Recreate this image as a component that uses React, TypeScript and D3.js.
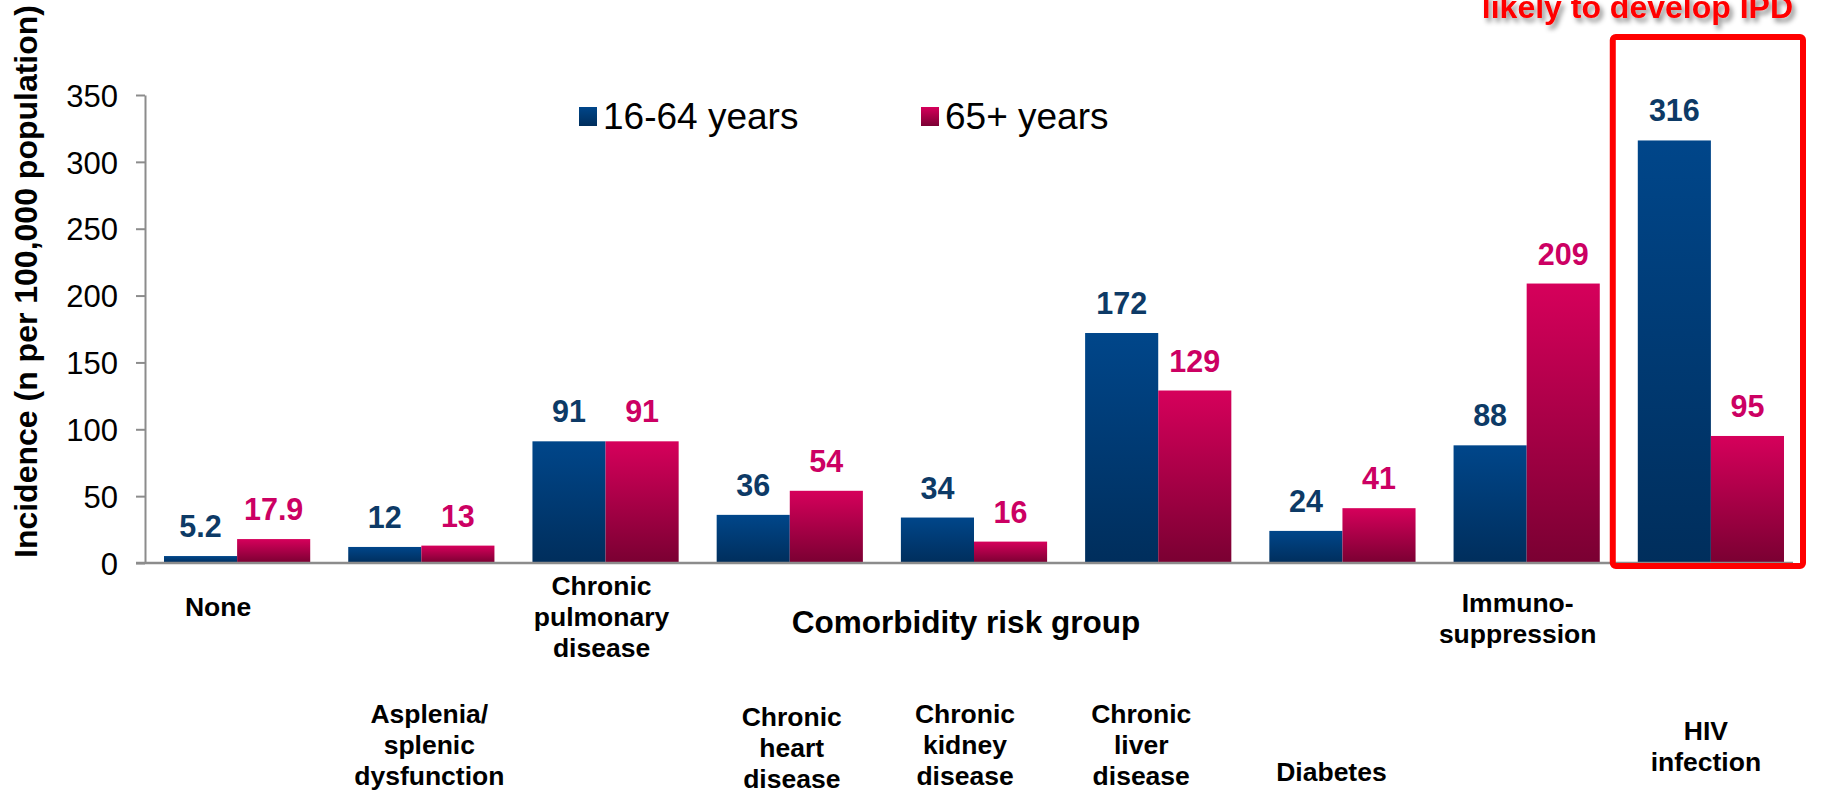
/**
 * IPD incidence by comorbidity risk group, grouped bar chart
 * - D3 scales/axes drawn into an SVG through a ref
 * - HIV group highlighted with a red frame
 */
import { useEffect, useRef } from 'react'
import * as d3 from 'd3'

// ── data ──
const categories = [
  'None', 'Asplenia', 'Pulmonary', 'Heart', 'Kidney', 'Liver', 'Diabetes', 'Immuno', 'HIV',
]
const categoryLines = [
  ['None'],
  ['Asplenia/', 'splenic', 'dysfunction'],
  ['Chronic', 'pulmonary', 'disease'],
  ['Chronic', 'heart', 'disease'],
  ['Chronic', 'kidney', 'disease'],
  ['Chronic', 'liver', 'disease'],
  ['Diabetes'],
  ['Immuno-', 'suppression'],
  ['HIV', 'infection'],
]
const seriesNames = ['16-64 years', '65+ years']
const young = [5.2, 12, 91, 36, 34, 172, 24, 88, 316]
const old   = [17.9, 13, 91, 54, 16, 129, 41, 209, 95]
const youngLabels = ['5.2', '12', '91', '36', '34', '172', '24', '88', '316']
const oldLabels   = ['17.9', '13', '91', '54', '16', '129', '41', '209', '95']
const yTicks = [0, 50, 100, 150, 200, 250, 300, 350]

// label placement under the axis (first baseline, horizontal nudge)
const labelLayout = [
  { y: 616, dx: -19 }, { y: 723, dx: 8 }, { y: 595, dx: -4 },
  { y: 726, dx: 2 },   { y: 723, dx: -9 }, { y: 723, dx: -17 },
  { y: 781, dx: -11 }, { y: 612, dx: -9 }, { y: 740, dx: -5 },
]

const W = 1829
const H = 791
const X0 = 145
const X1 = 1803
const Y0 = 563
const Y1 = 95
const FONT = "'Liberation Sans', Arial, Helvetica, sans-serif"
const BLUE_TXT = '#0D3A66'
const RED_TXT = '#CC0063'

export default function App() {
  const svgRef = useRef<SVGSVGElement>(null)

  useEffect(() => {
    const svg = d3.select(svgRef.current)
    svg.selectAll('*').remove()
    svg.attr('width', W).attr('height', H).attr('viewBox', `0 0 ${W} ${H}`)

    const defs = svg.append('defs')
    const grad = (id: string, top: string, bottom: string) => {
      const g = defs.append('linearGradient').attr('id', id)
        .attr('x1', 0).attr('y1', 0).attr('x2', 0).attr('y2', 1)
      g.append('stop').attr('offset', '0%').attr('stop-color', top)
      g.append('stop').attr('offset', '100%').attr('stop-color', bottom)
    }
    grad('gBlue', '#00468A', '#002E5C')
    grad('gRed', '#D6005B', '#7A0032')
    const fills = ['url(#gBlue)', 'url(#gRed)']

    const shadow = defs.append('filter').attr('id', 'shadow')
      .attr('x', '-10%').attr('y', '-50%').attr('width', '130%').attr('height', '220%')
    shadow.append('feDropShadow')
      .attr('dx', 3).attr('dy', 4).attr('stdDeviation', 2.5)
      .attr('flood-color', '#000').attr('flood-opacity', 0.45)

    const x = d3.scaleBand<string>().domain(categories).range([X0, X1])
    const xSub = d3.scaleBand<string>().domain(seriesNames)
      .range([0, x.bandwidth()]).paddingInner(0).paddingOuter(0.26)
    const y = d3.scaleLinear().domain([0, 350]).range([Y0, Y1])

    // ── Y axis ──
    const yAxis = svg.append('g').attr('transform', `translate(${X0},0)`)
      .call(d3.axisLeft(y).tickValues(yTicks).tickSize(9).tickSizeOuter(0).tickPadding(18))
    yAxis.select('.domain').attr('stroke', '#8C8C8C').attr('stroke-width', 2)
    yAxis.selectAll('.tick line').attr('stroke', '#8C8C8C').attr('stroke-width', 2)
    yAxis.selectAll('.tick text')
      .attr('font-family', FONT).attr('font-size', 31).attr('fill', '#000')
      .attr('dy', '0.36em')

    // ── bars ──
    const seriesValues = [young, old]
    const seriesLabels = [youngLabels, oldLabels]
    const labelColors = [BLUE_TXT, RED_TXT]
    seriesNames.forEach((s, si) => {
      const gs = svg.append('g')
      categories.forEach((c, ci) => {
        const v = seriesValues[si][ci]
        const bx = (x(c) ?? 0) + (xSub(s) ?? 0)
        gs.append('rect')
          .attr('x', bx).attr('y', y(v))
          .attr('width', xSub.bandwidth()).attr('height', Y0 - y(v))
          .attr('fill', fills[si])
        gs.append('text')
          .attr('x', bx + xSub.bandwidth() / 2).attr('y', y(v) - 19)
          .attr('text-anchor', 'middle')
          .attr('font-family', FONT).attr('font-size', 30.5).attr('font-weight', 700)
          .attr('fill', labelColors[si])
          .text(seriesLabels[si][ci])
      })
    })

    // ── X axis line ──
    svg.append('line')
      .attr('x1', X0 - 9).attr('x2', X1 - 10)
      .attr('y1', Y0).attr('y2', Y0)
      .attr('stroke', '#8C8C8C').attr('stroke-width', 2.5)

    // ── category labels ──
    categories.forEach((c, ci) => {
      const cx = (x(c) ?? 0) + x.bandwidth() / 2 + labelLayout[ci].dx
      const t = svg.append('text')
        .attr('text-anchor', 'middle')
        .attr('font-family', FONT).attr('font-size', 26.5).attr('font-weight', 700)
        .attr('fill', '#000')
      categoryLines[ci].forEach((ln, li) => {
        t.append('tspan').attr('x', cx).attr('y', labelLayout[ci].y + li * 31).text(ln)
      })
    })

    svg.append('text')
      .attr('x', 966).attr('y', 633).attr('text-anchor', 'middle')
      .attr('font-family', FONT).attr('font-size', 31.5).attr('font-weight', 700)
      .text('Comorbidity risk group')

    // ── Y title ──
    svg.append('text')
      .attr('transform', `translate(37,${Y0 / 2}) rotate(-90)`)
      .attr('text-anchor', 'middle')
      .attr('font-family', FONT).attr('font-size', 32).attr('font-weight', 700)
      .text('Incidence (n per 100,000 population)')

    // ── legend ──
    const leg = svg.append('g')
    const legX = [579, 921]
    seriesNames.forEach((s, si) => {
      leg.append('rect')
        .attr('x', legX[si]).attr('y', 107).attr('width', 18).attr('height', 19)
        .attr('fill', fills[si])
      leg.append('text')
        .attr('x', legX[si] + 24).attr('y', 129)
        .attr('font-family', FONT).attr('font-size', 37).attr('fill', '#000')
        .text(s)
    })

    // ── highlight frame around HIV ──
    const hx = x('HIV') ?? 0
    svg.append('rect')
      .attr('x', hx - 6).attr('y', 37)
      .attr('width', x.bandwidth() + 6).attr('height', Y0 + 3 - 37)
      .attr('rx', 3)
      .attr('fill', 'none').attr('stroke', '#FF0000').attr('stroke-width', 6)

    svg.append('text')
      .attr('x', 1793).attr('y', 18).attr('text-anchor', 'end')
      .attr('font-family', FONT).attr('font-size', 32).attr('font-weight', 700)
      .attr('fill', '#FF0000').attr('filter', 'url(#shadow)')
      .text('likely to develop IPD')
  }, [])

  return (
    <svg ref={svgRef} style={{ position: 'absolute', left: 0, top: 0, display: 'block' }} />
  )
}
